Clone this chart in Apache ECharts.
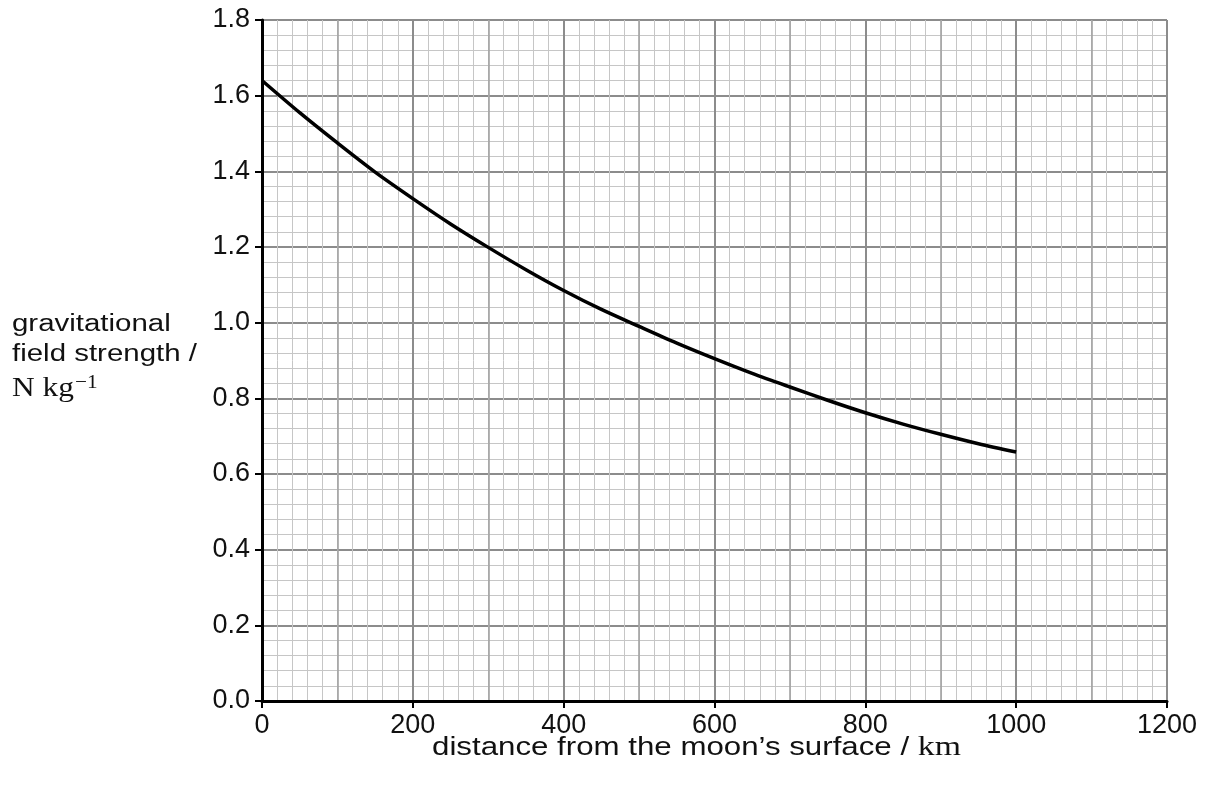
<!DOCTYPE html>
<html>
<head>
<meta charset="utf-8">
<script src="https://cdn.jsdelivr.net/npm/echarts@6/dist/echarts.min.js"></script>
<style>
html,body{margin:0;padding:0;background:#fff;}
#chart{width:1211px;height:787px;}
</style>
</head>
<body>
<div id="chart"></div>
<script>
// distance from the moon's surface / km
var distanceKm = [0, 50, 100, 150, 200, 250, 300, 350, 400, 450, 500, 550, 600, 650, 700, 750, 800, 850, 900, 950, 1000];
// gravitational field strength / N kg^-1
var fieldStrength = [1.64, 1.555, 1.475, 1.398, 1.328, 1.261, 1.199, 1.14, 1.085, 1.035, 0.99, 0.946, 0.905, 0.866, 0.83, 0.795, 0.762, 0.732, 0.705, 0.68, 0.658];
var xTickLabels = ['0', '200', '400', '600', '800', '1000', '1200'];
var yTickLabels = ['0.0', '0.2', '0.4', '0.6', '0.8', '1.0', '1.2', '1.4', '1.6', '1.8'];

var points = distanceKm.map(function (d, i) { return [d, fieldStrength[i]]; });

var chart = echarts.init(document.getElementById('chart'), null, {renderer: 'canvas'});
var labelFont = 'Liberation Sans, Arial, sans-serif';
var serif = 'Liberation Serif, Times New Roman, serif';

function hiddenAxis(pos, interval, max, color, width) {
  return {
    type: 'value', position: pos, min: 0, max: max, interval: interval,
    axisLine: {show: false}, axisTick: {show: false}, axisLabel: {show: false},
    splitLine: {show: true, lineStyle: {color: color, width: width}}
  };
}

chart.setOption({
  animation: false,
  backgroundColor: '#fff',
  grid: {left: 262, right: 44, top: 20, bottom: 86, containLabel: false},
  xAxis: [
    hiddenAxis('bottom', 20, 1200, '#c6c6c6', 1),
    hiddenAxis('bottom', 100, 1200, '#a2a2a2', 1.6),
    {
      type: 'value', position: 'bottom', min: 0, max: 1200, interval: 200,
      axisLine: {show: true, onZero: false, lineStyle: {color: '#000', width: 3}},
      axisTick: {show: true, length: 7, lineStyle: {color: '#000', width: 2}},
      axisLabel: {
        show: true, margin: 11, color: '#111', fontSize: 27, fontFamily: labelFont,
        formatter: function (v) { return xTickLabels[Math.round(v / 200)]; }
      },
      splitLine: {show: true, lineStyle: {color: '#8c8c8c', width: 2}}
    }
  ],
  yAxis: [
    hiddenAxis('left', 0.04, 1.8, '#c6c6c6', 1),
    {
      type: 'value', position: 'left', min: 0, max: 1.8, interval: 0.2,
      axisLine: {show: true, onZero: false, lineStyle: {color: '#000', width: 3}},
      axisTick: {show: true, length: 7, lineStyle: {color: '#000', width: 2}},
      axisLabel: {
        show: true, margin: 12, color: '#111', fontSize: 27, fontFamily: labelFont,
        formatter: function (v) { return yTickLabels[Math.round(v / 0.2)]; }
      },
      splitLine: {show: true, lineStyle: {color: '#8c8c8c', width: 2}}
    }
  ],
  series: [{
    type: 'line',
    xAxisIndex: 2,
    yAxisIndex: 1,
    data: points,
    smooth: 0.3,
    symbol: 'none',
    lineStyle: {color: '#000', width: 3.5}
  }],
  graphic: [
    {
      type: 'text', x: 12, y: 325, scaleX: 1.28,
      style: {text: 'gravitational', font: '23px ' + labelFont, fill: '#111', verticalAlign: 'middle'}
    },
    {
      type: 'text', x: 12, y: 355, scaleX: 1.28,
      style: {text: 'field strength /', font: '23px ' + labelFont, fill: '#111', verticalAlign: 'middle'}
    },
    {
      type: 'text', x: 12, y: 389, scaleX: 1.12,
      style: {
        text: 'N kg{s|−1}', font: '28px ' + serif, fill: '#111', verticalAlign: 'middle',
        rich: {s: {font: '19px ' + serif, fill: '#111', verticalAlign: 'top', padding: [0, 0, 12, 1]}}
      }
    },
    {
      type: 'text', x: 432, y: 748, scaleX: 1.25,
      style: {
        text: 'distance from the moon’s surface / {u|km}',
        font: '25px ' + labelFont, fill: '#111', verticalAlign: 'middle',
        rich: {u: {font: '27px ' + serif, fill: '#111'}}
      }
    }
  ]
});
</script>
</body>
</html>
